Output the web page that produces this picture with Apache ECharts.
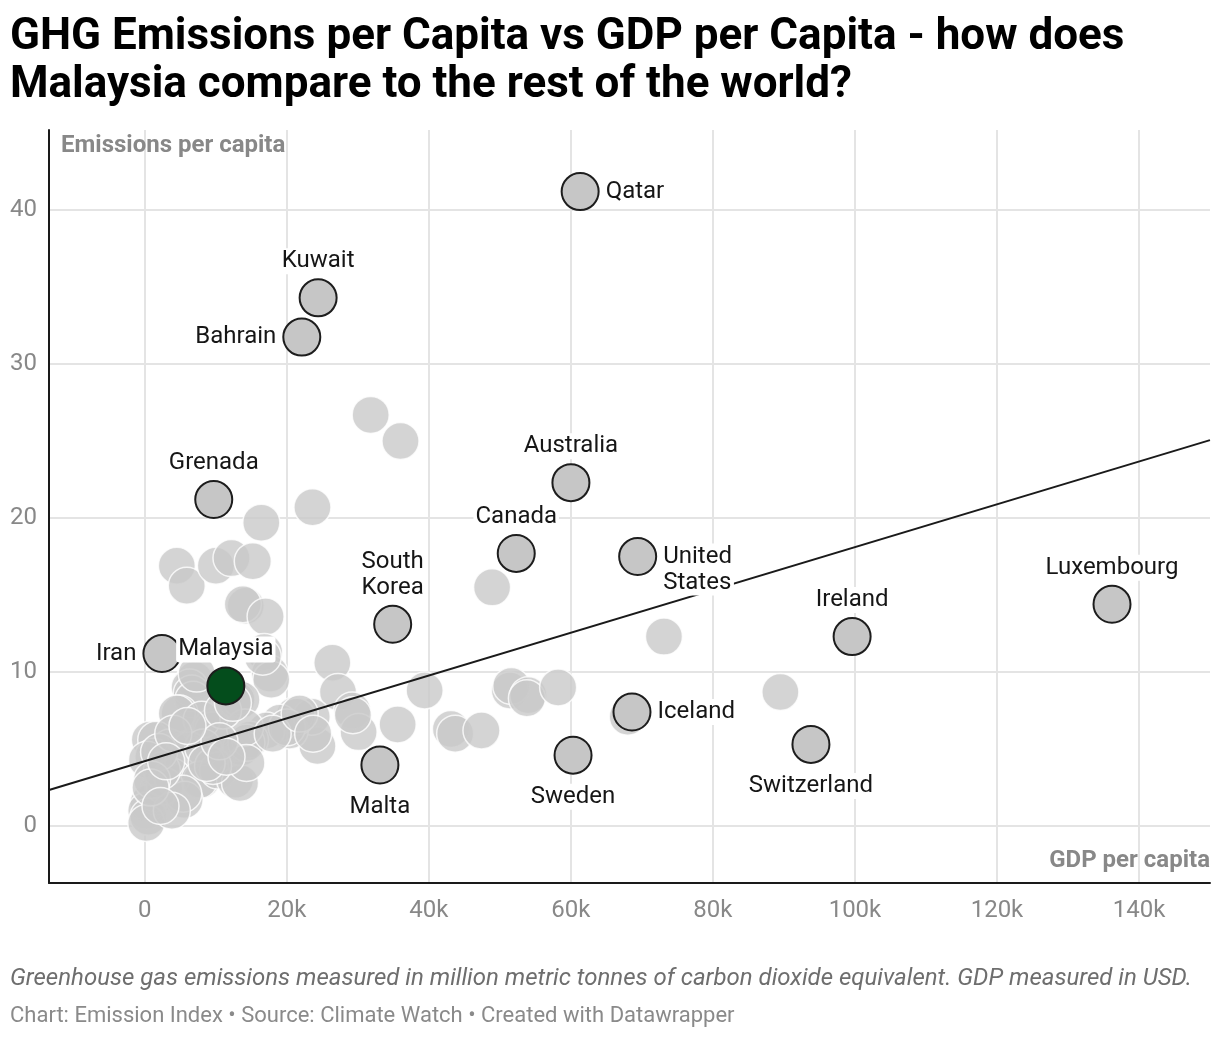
<!DOCTYPE html>
<html>
<head>
<meta charset="utf-8">
<title>GHG Emissions per Capita vs GDP per Capita</title>
<script src="https://cdn.jsdelivr.net/npm/echarts@6/dist/echarts.min.js"></script>
<style>
  html, body { margin: 0; padding: 0; background: #fff; }
  #chart { width: 1220px; height: 1038px; }
</style>
</head>
<body>
<div id="chart"></div>
<script>
// labelled countries (GDP per capita in thousand USD, emissions per capita)
var highlightNames = ['Qatar', 'Kuwait', 'Bahrain', 'Grenada', 'Australia', 'Canada', 'United States', 'South Korea',
  'Luxembourg', 'Ireland', 'Iran', 'Iceland', 'Switzerland', 'Sweden', 'Malta'];
var highlightGdpK = [61.3, 24.4, 22.1, 9.7, 60.0, 52.3, 69.4, 34.9, 136.2, 99.6, 2.4, 68.6, 93.8, 60.3, 33.1];
var highlightEmissions = [41.2, 34.3, 31.75, 21.2, 22.3, 17.7, 17.5, 13.1, 14.4, 12.3, 11.2, 7.4, 5.3, 4.6, 3.96];

var malaysiaGdpK = [11.4];
var malaysiaEmissions = [9.1];

// the rest of the world
var otherGdpK = [31.8, 36.0, 23.6, 16.4, 4.5, 5.9, 10.0, 12.2, 15.2, 14.2, 13.8, 17.0, 16.8, 17.6, 17.8, 48.9, 73.1, 89.5, 68.0,
  26.4, 27.2, 29.2, 30.1, 35.6, 39.4, 43.1, 43.7, 47.4, 51.4, 51.6, 54.0, 53.8, 58.2, 24.3, 21.1, 23.5, 20.4, 29.3, 21.4, 19.0, 17.1, 14.8,
  7.0, 6.3, 6.6, 6.8, 12.9, 12.9, 13.6, 4.9, 4.5, 9.4, 9.6, 8.0, 0.7, 1.6, 3.5, 1.2, 0.3, 6.3, 8.2, 3.8, 3.9, 8.0, 7.7,
  1.6, 1.6, 0.5, 0.2, 0.5, 0.2, 10.3, 12.7, 13.4, 13.6, 14.3, 14.1, 14.3, 9.6, 8.7, 2.8, 5.6, 5.4, 3.8, 2.4, 20.0, 18.0,
  21.8, 23.7, 16.6, 2.0, 4.0, 11.0, 10.5, 1.0, 0.8, 2.2, 6.0, 11.5, 3.0, 7.3, 12.4];
var otherEmissions = [26.7, 25.0, 20.7, 19.7, 16.9, 15.6, 16.9, 17.4, 17.2, 14.3, 14.4, 13.6, 11.3, 9.9, 9.5, 15.5, 12.3, 8.7, 7.1,
  10.6, 8.7, 7.5, 6.1, 6.6, 8.8, 6.3, 6.0, 6.2, 8.8, 9.1, 8.5, 8.3, 9.0, 5.2, 7.2, 7.1, 6.2, 7.2, 7.1, 6.7, 6.2, 5.6,
  9.5, 9.0, 8.6, 8.2, 8.4, 8.2, 8.2, 7.3, 7.3, 6.4, 6.2, 6.9, 5.6, 5.6, 5.1, 4.5, 4.3, 4.9, 5.1, 3.2, 3.2, 3.0, 3.0,
  2.1, 1.9, 1.5, 1.0, 0.6, 0.2, 3.6, 3.0, 2.8, 5.1, 5.4, 6.4, 4.1, 3.9, 4.1, 2.6, 1.7, 2.1, 1.0, 3.6, 6.4, 6.0,
  7.3, 6.0, 11.0, 4.8, 6.0, 7.5, 5.5, 3.0, 2.5, 1.3, 6.5, 4.5, 4.2, 9.9, 8.0];

// trend line end points
var trendGdpK = [-13.5, 150];
var trendEmissions = [2.34, 25.06];

// label placement (style only)
var labelPos = {
  'Qatar': 'right', 'Kuwait': 'top', 'Bahrain': 'left', 'Grenada': 'top', 'Australia': 'top', 'Canada': 'top',
  'United States': 'right', 'South Korea': 'top', 'Luxembourg': 'top', 'Ireland': 'top', 'Iran': 'left',
  'Iceland': 'right', 'Switzerland': 'bottom', 'Sweden': 'bottom', 'Malta': 'bottom'
};
var labelText = { 'United States': 'United\nStates', 'South Korea': 'South\nKorea' };

var labelStyle = {
  show: true,
  color: '#161616',
  fontFamily: 'Roboto',
  fontSize: 24,
  lineHeight: 26,
  backgroundColor: '#fff',
  padding: [0, 2],
  borderRadius: 3,
  distance: 4
};

function zip(xs, ys) {
  var out = [];
  for (var i = 0; i < xs.length; i++) out.push([xs[i], ys[i]]);
  return out;
}

var highlightData = highlightNames.map(function (n, i) {
  var lbl = { position: labelPos[n] };
  if (n === 'United States') lbl.offset = [0, 13];
  if (labelPos[n] === 'bottom') lbl.distance = 9;
  return { name: n, value: [highlightGdpK[i], highlightEmissions[i]], label: lbl };
});

var chart = echarts.init(document.getElementById('chart'));
var option = {
  animation: false,
  title: {
    text: 'GHG Emissions per Capita vs GDP per Capita - how does\nMalaysia compare to the rest of the world?',
    left: 10,
    top: 14,
    padding: 0,
    textStyle: { fontFamily: 'Roboto', fontWeight: 'bold', fontSize: 44, lineHeight: 48, color: '#000' }
  },
  grid: { left: 49, right: 10, top: 130, bottom: 155, containLabel: false },
  xAxis: {
    type: 'value',
    min: -13.5,
    max: 150,
    splitNumber: 8,
    axisLine: { show: true, onZero: false, lineStyle: { color: '#1a1a1a', width: 2 } },
    axisTick: { show: false },
    axisLabel: {
      color: '#888', fontFamily: 'Roboto', fontSize: 24, margin: 16,
      showMinLabel: false, showMaxLabel: false,
      formatter: function (v) { return v === 0 ? '0' : v + 'k'; }
    },
    splitLine: { show: true, showMinLine: false, showMaxLine: false, lineStyle: { color: '#e4e4e4', width: 2 } }
  },
  yAxis: {
    type: 'value',
    min: -3.7,
    max: 45.2,
    splitNumber: 5,
    axisLine: { show: true, onZero: false, lineStyle: { color: '#1a1a1a', width: 2 } },
    axisTick: { show: false },
    axisLabel: {
      color: '#888', fontFamily: 'Roboto', fontSize: 24, margin: 12,
      showMinLabel: false, showMaxLabel: false
    },
    splitLine: { show: true, showMinLine: false, showMaxLine: false, lineStyle: { color: '#e4e4e4', width: 2 } }
  },
  graphic: [
    { type: 'text', left: 61, top: 134, z: 100,
      style: { text: 'Emissions per capita', font: 'bold 24px Roboto', fill: '#888' } },
    { type: 'text', right: 10, top: 849, z: 100,
      style: { text: 'GDP per capita', font: 'bold 24px Roboto', fill: '#888' } },
    { type: 'text', left: 10, top: 967,
      style: { text: 'Greenhouse gas emissions measured in million metric tonnes of carbon dioxide equivalent. GDP measured in USD.',
        font: 'italic 24px Roboto', fill: '#6e6e6e' } },
    { type: 'text', left: 10, top: 1005,
      style: { text: 'Chart: Emission Index \u2022 Source: Climate Watch \u2022 Created with Datawrapper',
        font: '22px Roboto', fill: '#8a8a8a' } }
  ],
  series: [
    {
      name: 'Other countries',
      type: 'scatter',
      symbolSize: 37,
      data: zip(otherGdpK, otherEmissions),
      itemStyle: { color: '#c9c9c9', opacity: 0.8, borderColor: '#fff', borderWidth: 1.5 },
      emphasis: { disabled: true },
      silent: true,
      z: 1
    },
    {
      name: 'Trend',
      type: 'line',
      data: zip(trendGdpK, trendEmissions),
      showSymbol: false,
      lineStyle: { color: '#1a1a1a', width: 2 },
      emphasis: { disabled: true },
      silent: true,
      z: 2
    },
    {
      name: 'Labelled',
      type: 'scatter',
      symbolSize: 37,
      data: highlightData,
      itemStyle: { color: '#c6c6c6', opacity: 1, borderColor: '#1d1d1d', borderWidth: 2 },
      label: Object.assign({}, labelStyle, {
        formatter: function (p) { return labelText[p.name] || p.name; }
      }),
      emphasis: { disabled: true },
      silent: true,
      z: 3
    },
    {
      name: 'Malaysia',
      type: 'scatter',
      symbolSize: 37,
      data: [{ name: 'Malaysia', value: [malaysiaGdpK[0], malaysiaEmissions[0]] }],
      itemStyle: { color: '#044d1c', opacity: 1, borderColor: '#1d1d1d', borderWidth: 2 },
      label: Object.assign({}, labelStyle, { position: 'top', formatter: '{b}' }),
      emphasis: { disabled: true },
      silent: true,
      z: 4
    }
  ]
};
chart.setOption(option);
</script>
</body>
</html>
